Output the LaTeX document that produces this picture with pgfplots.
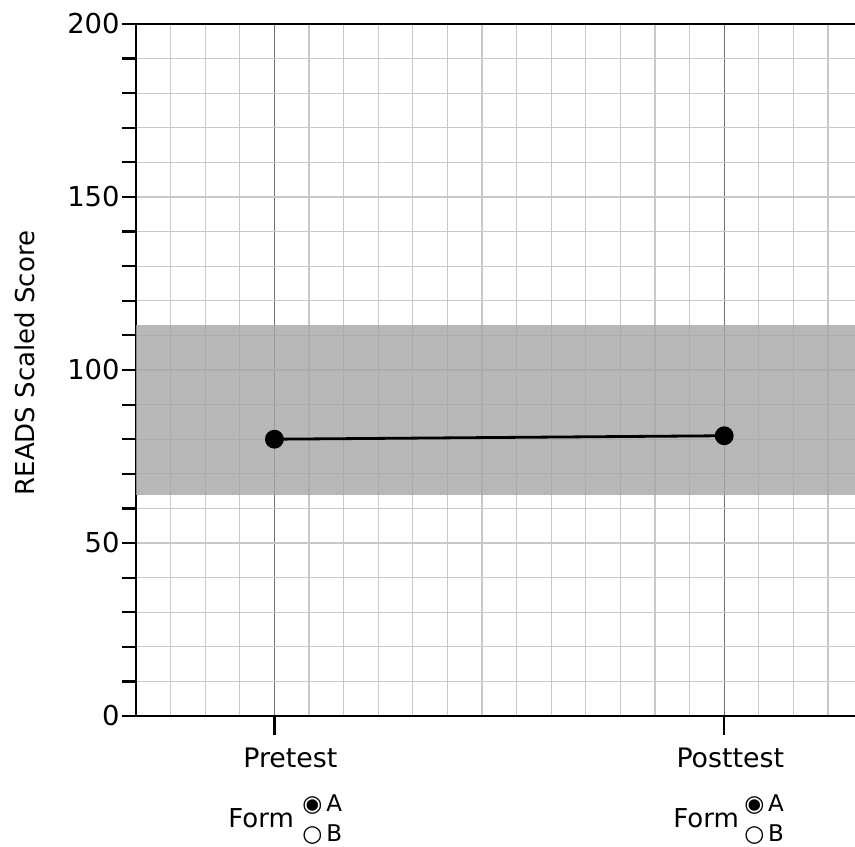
\documentclass[border=0pt]{standalone}
\usepackage{fontspec}
\setmainfont{DejaVu Sans}
\usepackage{pgfplots}
\pgfplotsset{compat=1.18}

\definecolor{gridlight}{HTML}{C8C8C8}
\definecolor{griddark}{HTML}{707070}
\definecolor{bandgray}{HTML}{A6A6A6}

\begin{document}
\begin{tikzpicture}
\begin{axis}[
  scale only axis,
  width=359.5pt, height=346pt,
  xmin=0, xmax=20.78,
  ymin=0, ymax=200,
  clip=false,
  axis lines=left,
  axis line style={-, line width=1.2pt, black},
  tick align=outside,
  major tick length=7pt,
  minor tick length=7pt,
  tick style={line width=1.1pt, black},
  xtick={4,17},
  xticklabels={},
  minor xtick={0,1,...,20},
  minor x tick style={draw=none},
  ytick={0,50,...,200},
  minor ytick={0,10,...,200},
  grid=both,
  major grid style={griddark, line width=0.6pt},
  minor grid style={gridlight, line width=0.6pt},
  y grid style={gridlight},
  /pgf/number format/assume math mode=true,
  yticklabel style={font=\fontsize{13.7}{16}\selectfont, inner sep=0pt, xshift=-1pt},
  ylabel={READS Scaled Score},
  ylabel style={font=\fontsize{13}{15}\selectfont, at={(axis description cs:-0.1544,0.51)}, anchor=center},
]
% norm band
\addplot[draw=none, fill=bandgray, fill opacity=0.8]
  coordinates {(0,64) (20.78,64) (20.78,113) (0,113)} -- cycle;
% scores
\addplot[black, line width=1.4pt, mark=*, mark size=4pt]
  coordinates {(4,80) (17,81)};
\draw[line width=1.2pt] (rel axis cs:0,1) -- (rel axis cs:1,1);
\draw[line width=1.1pt] (axis cs:4,0) -- ++(0,-9.5pt);
\draw[line width=1.1pt] (axis cs:17,0) -- ++(0,-9.5pt);
% category labels
\begin{scope}[every node/.style={inner sep=0pt, anchor=base west}]
\node[font=\fontsize{13.4}{15}\selectfont] at (axis cs:3.09,-15.0) {Pretest};
\node[font=\fontsize{13}{15}\selectfont] at (axis cs:2.66,-32.1) {Form};
\node[font=\fontsize{11.5}{12}\selectfont] at (axis cs:4.80,-27.7) {◉\,A};
\node[font=\fontsize{11.5}{12}\selectfont] at (axis cs:4.80,-36.4) {○\,B};
\node[font=\fontsize{13.4}{15}\selectfont] at (axis cs:15.61,-15.0) {Posttest};
\node[font=\fontsize{13}{15}\selectfont] at (axis cs:15.52,-32.1) {Form};
\node[font=\fontsize{11.5}{12}\selectfont] at (axis cs:17.57,-27.7) {◉\,A};
\node[font=\fontsize{11.5}{12}\selectfont] at (axis cs:17.57,-36.4) {○\,B};
\end{scope}
\end{axis}
\pgfresetboundingbox
\path[use as bounding box] (-68pt,-65pt) rectangle (359.5pt,358pt);
\end{tikzpicture}
\end{document}
